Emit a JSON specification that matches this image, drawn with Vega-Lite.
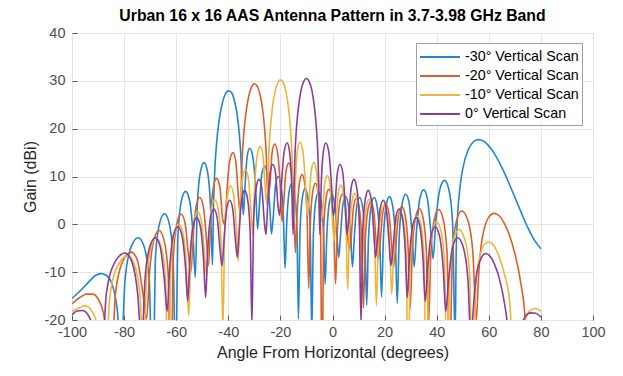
{
"$schema": "https://vega.github.io/schema/vega-lite/v6.json",
"width": 521, "height": 287,
"autosize": {"type": "none"},
"padding": {"left": 72, "top": 33, "right": 30, "bottom": 56},
"background": "white",
"title": {"text": "Urban 16 x 16 AAS Antenna Pattern in 3.7-3.98 GHz Band", "fontSize": 15.8, "fontWeight": "bold", "color": "#000000", "anchor": "middle", "frame": "group", "baseline": "top", "offset": 0},
"data": {"values": [
{"s":"-30","x":-100,"y":-15.5},{"s":"-30","x":-97,"y":-14.0},{"s":"-30","x":-94,"y":-12.3},{"s":"-30","x":-91,"y":-10.7},{"s":"-30","x":-89,"y":-10.3},{"s":"-30","x":-87,"y":-10.6},{"s":"-30","x":-85,"y":-12.0},{"s":"-30","x":-83.5,"y":-14.8},{"s":"-30","x":-82.5,"y":-18.5},{"s":"-30","x":-81.2,"y":-28.6},
{"s":"-30","x":-79.62,"y":-11.5},{"s":"-30","x":-77.24,"y":-4.6},{"s":"-30","x":-74.6,"y":-2.8},{"s":"-30","x":-72.36,"y":-4.6},{"s":"-30","x":-70.34,"y":-11.5},{"s":"-30","x":-69.0,"y":-40},
{"s":"-30","x":-67.92,"y":-6.5},{"s":"-30","x":-66.3,"y":0.4},{"s":"-30","x":-64.5,"y":2.2},{"s":"-30","x":-62.78,"y":0.4},{"s":"-30","x":-61.23,"y":-6.5},{"s":"-30","x":-60.2,"y":-30},
{"s":"-30","x":-59.29,"y":-1.8},{"s":"-30","x":-57.92,"y":5.1},{"s":"-30","x":-56.4,"y":6.9},{"s":"-30","x":-54.92,"y":5.1},{"s":"-30","x":-53.59,"y":-1.8},{"s":"-30","x":-52.7,"y":-11.1},
{"s":"-30","x":-51.88,"y":4.2},{"s":"-30","x":-50.66,"y":11.1},{"s":"-30","x":-49.3,"y":12.9},{"s":"-30","x":-48.02,"y":11.1},{"s":"-30","x":-46.87,"y":4.2},{"s":"-30","x":-46.1,"y":-8.5},
{"s":"-30","x":-45.66,"y":4.4},{"s":"-30","x":-45.16,"y":11.6},{"s":"-30","x":-44.54,"y":16.7},{"s":"-30","x":-43.61,"y":21.4},{"s":"-30","x":-42.39,"y":25.1},{"s":"-30","x":-41.19,"y":27.2},{"s":"-30","x":-40.0,"y":27.9},{"s":"-30","x":-38.83,"y":27.6},{"s":"-30","x":-37.66,"y":25.9},{"s":"-30","x":-36.52,"y":22.6},{"s":"-30","x":-35.66,"y":18.2},{"s":"-30","x":-35.09,"y":13.4},{"s":"-30","x":-34.64,"y":6.3},{"s":"-30","x":-34.25,"y":2},
{"s":"-30","x":-33.66,"y":7.2},{"s":"-30","x":-32.78,"y":14.1},{"s":"-30","x":-31.8,"y":15.9},{"s":"-30","x":-30.58,"y":14.1},{"s":"-30","x":-29.48,"y":7.2},{"s":"-30","x":-28.75,"y":-1.0},
{"s":"-30","x":-28.11,"y":3.5},{"s":"-30","x":-27.15,"y":10.4},{"s":"-30","x":-26.09,"y":12.2},{"s":"-30","x":-25.02,"y":10.4},{"s":"-30","x":-24.06,"y":3.5},{"s":"-30","x":-23.42,"y":-2.0},
{"s":"-30","x":-22.79,"y":1.3},{"s":"-30","x":-21.86,"y":8.2},{"s":"-30","x":-20.82,"y":10.0},{"s":"-30","x":-19.77,"y":8.2},{"s":"-30","x":-18.84,"y":1.3},{"s":"-30","x":-18.21,"y":-9.2},
{"s":"-30","x":-17.59,"y":-0.1},{"s":"-30","x":-16.67,"y":6.8},{"s":"-30","x":-15.64,"y":8.6},{"s":"-30","x":-14.61,"y":6.8},{"s":"-30","x":-13.69,"y":-0.1},{"s":"-30","x":-13.07,"y":-19.8},
{"s":"-30","x":-12.46,"y":-1.2},{"s":"-30","x":-11.53,"y":5.7},{"s":"-30","x":-10.51,"y":7.5},{"s":"-30","x":-9.49,"y":5.7},{"s":"-30","x":-8.56,"y":-1.2},{"s":"-30","x":-7.95,"y":-22.8},
{"s":"-30","x":-7.33,"y":-2.0},{"s":"-30","x":-6.41,"y":4.9},{"s":"-30","x":-5.39,"y":6.7},{"s":"-30","x":-4.36,"y":4.9},{"s":"-30","x":-3.44,"y":-2.0},{"s":"-30","x":-2.82,"y":-12.5},
{"s":"-30","x":-2.2,"y":-2.5},{"s":"-30","x":-1.26,"y":4.4},{"s":"-30","x":-0.23,"y":6.2},{"s":"-30","x":0.81,"y":4.4},{"s":"-30","x":1.75,"y":-2.5},{"s":"-30","x":2.37,"y":-6.9},
{"s":"-30","x":3.01,"y":-2.9},{"s":"-30","x":3.96,"y":4.0},{"s":"-30","x":5.02,"y":5.8},{"s":"-30","x":6.08,"y":4.0},{"s":"-30","x":7.03,"y":-2.9},{"s":"-30","x":7.67,"y":-8.9},
{"s":"-30","x":8.33,"y":-3.1},{"s":"-30","x":9.31,"y":3.8},{"s":"-30","x":10.4,"y":5.6},{"s":"-30","x":11.49,"y":3.8},{"s":"-30","x":12.47,"y":-3.1},{"s":"-30","x":13.13,"y":-16.9},
{"s":"-30","x":13.81,"y":-3.1},{"s":"-30","x":14.84,"y":3.8},{"s":"-30","x":15.98,"y":5.6},{"s":"-30","x":17.12,"y":3.8},{"s":"-30","x":18.15,"y":-3.1},{"s":"-30","x":18.83,"y":-15.2},
{"s":"-30","x":19.55,"y":-2.9},{"s":"-30","x":20.64,"y":4.0},{"s":"-30","x":21.84,"y":5.8},{"s":"-30","x":23.04,"y":4.0},{"s":"-30","x":24.13,"y":-2.9},{"s":"-30","x":24.85,"y":-16.5},
{"s":"-30","x":25.63,"y":-2.4},{"s":"-30","x":26.8,"y":4.5},{"s":"-30","x":28.1,"y":6.3},{"s":"-30","x":29.41,"y":4.5},{"s":"-30","x":30.58,"y":-2.4},{"s":"-30","x":31.36,"y":-8.9},
{"s":"-30","x":32.23,"y":-1.5},{"s":"-30","x":33.53,"y":5.4},{"s":"-30","x":34.98,"y":7.2},{"s":"-30","x":36.42,"y":5.4},{"s":"-30","x":37.72,"y":-1.5},{"s":"-30","x":38.59,"y":-7.2},
{"s":"-30","x":39.65,"y":0.5},{"s":"-30","x":41.24,"y":7.4},{"s":"-30","x":43.0,"y":9.2},{"s":"-30","x":44.62,"y":7.4},{"s":"-30","x":46.09,"y":0.5},{"s":"-30","x":47.06,"y":-24},
{"s":"-30","x":47.5,"y":-5.2},{"s":"-30","x":48,"y":1.65},{"s":"-30","x":49,"y":8.0},{"s":"-30","x":50,"y":11.6},{"s":"-30","x":52,"y":15.5},{"s":"-30","x":54,"y":17.2},{"s":"-30","x":55,"y":17.6},{"s":"-30","x":56,"y":17.7},{"s":"-30","x":58,"y":17.4},{"s":"-30","x":60,"y":16.4},{"s":"-30","x":62,"y":14.9},{"s":"-30","x":65,"y":11.9},{"s":"-30","x":67.5,"y":8.9},{"s":"-30","x":70,"y":5.65},{"s":"-30","x":72.5,"y":2.4},{"s":"-30","x":75,"y":-0.7},{"s":"-30","x":77.5,"y":-3.3},{"s":"-30","x":80,"y":-5.1},

{"s":"-20","x":-100,"y":-16.6},{"s":"-20","x":-97,"y":-15.3},{"s":"-20","x":-94.5,"y":-14.6},{"s":"-20","x":-92,"y":-14.6},{"s":"-20","x":-90,"y":-15.6},{"s":"-20","x":-88,"y":-18.4},{"s":"-20","x":-87,"y":-22},{"s":"-20","x":-85.25,"y":-35},
{"s":"-20","x":-83.32,"y":-14.5},{"s":"-20","x":-80.42,"y":-7.6},{"s":"-20","x":-77.2,"y":-5.8},{"s":"-20","x":-74.86,"y":-7.6},{"s":"-20","x":-72.76,"y":-14.5},{"s":"-20","x":-71.36,"y":-19.8},
{"s":"-20","x":-70.22,"y":-10.0},{"s":"-20","x":-68.5,"y":-3.1},{"s":"-20","x":-66.6,"y":-1.3},{"s":"-20","x":-64.78,"y":-3.1},{"s":"-20","x":-63.13,"y":-10.0},{"s":"-20","x":-62.04,"y":-35},
{"s":"-20","x":-61.09,"y":-6.6},{"s":"-20","x":-59.68,"y":0.3},{"s":"-20","x":-58.1,"y":2.1},{"s":"-20","x":-56.6,"y":0.3},{"s":"-20","x":-55.26,"y":-6.6},{"s":"-20","x":-54.36,"y":-10.0},
{"s":"-20","x":-53.55,"y":-3.1},{"s":"-20","x":-52.33,"y":3.8},{"s":"-20","x":-50.97,"y":5.6},{"s":"-20","x":-49.61,"y":3.8},{"s":"-20","x":-48.39,"y":-3.1},{"s":"-20","x":-47.58,"y":-8.7},
{"s":"-20","x":-46.83,"y":0.9},{"s":"-20","x":-45.72,"y":7.8},{"s":"-20","x":-44.48,"y":9.6},{"s":"-20","x":-43.23,"y":7.8},{"s":"-20","x":-42.12,"y":0.9},{"s":"-20","x":-41.37,"y":0},
{"s":"-20","x":-40.61,"y":6.3},{"s":"-20","x":-39.47,"y":13.2},{"s":"-20","x":-38.2,"y":15.0},{"s":"-20","x":-37.14,"y":13.2},{"s":"-20","x":-36.19,"y":6.3},{"s":"-20","x":-35.55,"y":2.6},
{"s":"-20","x":-35.16,"y":6.2},{"s":"-20","x":-34.70,"y":13.4},{"s":"-20","x":-34.14,"y":18.4},{"s":"-20","x":-33.30,"y":23.0},{"s":"-20","x":-32.19,"y":26.7},{"s":"-20","x":-31.09,"y":28.7},{"s":"-20","x":-30.0,"y":29.4},{"s":"-20","x":-28.92,"y":28.9},{"s":"-20","x":-27.84,"y":27.2},{"s":"-20","x":-26.77,"y":23.8},{"s":"-20","x":-25.97,"y":19.4},{"s":"-20","x":-25.43,"y":14.5},{"s":"-20","x":-25.01,"y":7.4},{"s":"-20","x":-24.64,"y":6.4},
{"s":"-20","x":-24.05,"y":8.1},{"s":"-20","x":-23.18,"y":15.0},{"s":"-20","x":-22.2,"y":16.8},{"s":"-20","x":-21.08,"y":15.0},{"s":"-20","x":-20.08,"y":8.1},{"s":"-20","x":-19.41,"y":0.6},
{"s":"-20","x":-18.79,"y":4.1},{"s":"-20","x":-17.86,"y":11.0},{"s":"-20","x":-16.83,"y":12.8},{"s":"-20","x":-15.80,"y":11.0},{"s":"-20","x":-14.87,"y":4.1},{"s":"-20","x":-14.25,"y":-5.9},
{"s":"-20","x":-13.64,"y":1.7},{"s":"-20","x":-12.71,"y":8.6},{"s":"-20","x":-11.69,"y":10.4},{"s":"-20","x":-10.67,"y":8.6},{"s":"-20","x":-9.74,"y":1.7},{"s":"-20","x":-9.13,"y":-13.4},
{"s":"-20","x":-8.52,"y":-0.1},{"s":"-20","x":-7.59,"y":6.8},{"s":"-20","x":-6.57,"y":8.6},{"s":"-20","x":-5.55,"y":6.8},{"s":"-20","x":-4.62,"y":-0.1},{"s":"-20","x":-4.01,"y":-36},
{"s":"-20","x":-3.39,"y":-1.4},{"s":"-20","x":-2.46,"y":5.5},{"s":"-20","x":-1.42,"y":7.3},{"s":"-20","x":-0.38,"y":5.5},{"s":"-20","x":0.55,"y":-1.4},{"s":"-20","x":1.17,"y":-12.5},
{"s":"-20","x":1.8,"y":-2.4},{"s":"-20","x":2.75,"y":4.5},{"s":"-20","x":3.81,"y":6.3},{"s":"-20","x":4.86,"y":4.5},{"s":"-20","x":5.81,"y":-2.4},{"s":"-20","x":6.44,"y":-5.4},
{"s":"-20","x":7.09,"y":-3.3},{"s":"-20","x":8.07,"y":3.6},{"s":"-20","x":9.15,"y":5.4},{"s":"-20","x":10.23,"y":3.6},{"s":"-20","x":11.21,"y":-3.3},{"s":"-20","x":11.86,"y":-17.5},
{"s":"-20","x":12.54,"y":-4.0},{"s":"-20","x":13.55,"y":2.9},{"s":"-20","x":14.68,"y":4.7},{"s":"-20","x":15.8,"y":2.9},{"s":"-20","x":16.81,"y":-4.0},{"s":"-20","x":17.49,"y":-7.3},
{"s":"-20","x":18.2,"y":-4.5},{"s":"-20","x":19.27,"y":2.4},{"s":"-20","x":20.46,"y":4.2},{"s":"-20","x":21.64,"y":2.4},{"s":"-20","x":22.71,"y":-4.5},{"s":"-20","x":23.42,"y":-8.9},
{"s":"-20","x":24.19,"y":-5.0},{"s":"-20","x":25.33,"y":1.9},{"s":"-20","x":26.61,"y":3.7},{"s":"-20","x":27.89,"y":1.9},{"s":"-20","x":29.03,"y":-5.0},{"s":"-20","x":29.80,"y":-17.7},
{"s":"-20","x":30.64,"y":-5.4},{"s":"-20","x":31.91,"y":1.5},{"s":"-20","x":33.32,"y":3.3},{"s":"-20","x":34.73,"y":1.5},{"s":"-20","x":36.0,"y":-5.4},{"s":"-20","x":36.84,"y":-21.1},
{"s":"-20","x":37.77,"y":-5.6},{"s":"-20","x":39.16,"y":1.3},{"s":"-20","x":40.7,"y":3.1},{"s":"-20","x":42.4,"y":1.3},{"s":"-20","x":43.93,"y":-5.6},{"s":"-20","x":44.95,"y":-30},
{"s":"-20","x":46.07,"y":-5.9},{"s":"-20","x":47.74,"y":1.0},{"s":"-20","x":49.6,"y":2.8},{"s":"-20","x":51.86,"y":1.0},{"s":"-20","x":53.89,"y":-5.9},{"s":"-20","x":55.2,"y":-20},
{"s":"-20","x":56,"y":-11.6},{"s":"-20","x":57,"y":-4.7},{"s":"-20","x":58,"y":-1.5},{"s":"-20","x":60,"y":1.5},{"s":"-20","x":62,"y":2.3},{"s":"-20","x":64,"y":1.8},{"s":"-20","x":66,"y":0.15},{"s":"-20","x":68,"y":-2.4},{"s":"-20","x":70,"y":-6.1},{"s":"-20","x":72,"y":-11.4},{"s":"-20","x":74,"y":-20},{"s":"-20","x":75.76,"y":-40},{"s":"-20","x":78,"y":-23.5},{"s":"-20","x":80,"y":-22.5},

{"s":"-10","x":-100,"y":-18.2},{"s":"-10","x":-97,"y":-17.4},{"s":"-10","x":-95,"y":-17.0},{"s":"-10","x":-92,"y":-18.5},{"s":"-10","x":-90,"y":-22},{"s":"-10","x":-87.75,"y":-40},
{"s":"-10","x":-85.53,"y":-15.3},{"s":"-10","x":-82.2,"y":-8.4},{"s":"-10","x":-78.5,"y":-6.6},{"s":"-10","x":-76.05,"y":-8.4},{"s":"-10","x":-73.84,"y":-15.3},{"s":"-10","x":-72.63,"y":-28.9},
{"s":"-10","x":-71.42,"y":-11.6},{"s":"-10","x":-69.61,"y":-4.7},{"s":"-10","x":-67.6,"y":-2.9},{"s":"-10","x":-65.76,"y":-4.7},{"s":"-10","x":-64.1,"y":-11.6},{"s":"-10","x":-63.0,"y":-40},
{"s":"-10","x":-62.04,"y":-8.7},{"s":"-10","x":-60.6,"y":-1.8},{"s":"-10","x":-59.0,"y":0.0},{"s":"-10","x":-57.47,"y":-1.8},{"s":"-10","x":-56.1,"y":-8.7},{"s":"-10","x":-55.18,"y":-19.1},
{"s":"-10","x":-54.36,"y":-6.1},{"s":"-10","x":-53.12,"y":0.8},{"s":"-10","x":-51.75,"y":2.6},{"s":"-10","x":-50.38,"y":0.8},{"s":"-10","x":-49.14,"y":-6.1},{"s":"-10","x":-48.32,"y":-10.8},
{"s":"-10","x":-47.57,"y":-3.6},{"s":"-10","x":-46.44,"y":3.4},{"s":"-10","x":-45.19,"y":5.15},{"s":"-10","x":-43.94,"y":3.4},{"s":"-10","x":-42.81,"y":-3.6},{"s":"-10","x":-42.06,"y":-21.8},
{"s":"-10","x":-41.36,"y":-0.7},{"s":"-10","x":-40.3,"y":6.2},{"s":"-10","x":-39.13,"y":8.0},{"s":"-10","x":-37.96,"y":6.2},{"s":"-10","x":-36.9,"y":-0.7},{"s":"-10","x":-36.2,"y":-7.6},
{"s":"-10","x":-35.53,"y":2.7},{"s":"-10","x":-34.53,"y":9.6},{"s":"-10","x":-33.41,"y":11.4},{"s":"-10","x":-32.29,"y":9.6},{"s":"-10","x":-31.29,"y":2.7},{"s":"-10","x":-30.62,"y":-2.0},
{"s":"-10","x":-29.92,"y":7.6},{"s":"-10","x":-28.87,"y":14.5},{"s":"-10","x":-27.7,"y":16.3},{"s":"-10","x":-26.72,"y":14.5},{"s":"-10","x":-25.84,"y":7.6},{"s":"-10","x":-25.25,"y":4.3},
{"s":"-10","x":-24.87,"y":7.4},{"s":"-10","x":-24.45,"y":14.6},{"s":"-10","x":-23.92,"y":19.5},{"s":"-10","x":-23.13,"y":24.1},{"s":"-10","x":-22.09,"y":27.7},{"s":"-10","x":-21.04,"y":29.6},{"s":"-10","x":-20.0,"y":30.2},{"s":"-10","x":-18.96,"y":29.7},{"s":"-10","x":-17.93,"y":27.9},{"s":"-10","x":-16.90,"y":24.4},{"s":"-10","x":-16.13,"y":20.0},{"s":"-10","x":-15.61,"y":15.1},{"s":"-10","x":-15.20,"y":7.9},{"s":"-10","x":-14.84,"y":0.3},
{"s":"-10","x":-14.28,"y":8.5},{"s":"-10","x":-13.44,"y":15.4},{"s":"-10","x":-12.5,"y":17.2},{"s":"-10","x":-11.39,"y":15.4},{"s":"-10","x":-10.39,"y":8.5},{"s":"-10","x":-9.72,"y":1.9},
{"s":"-10","x":-9.1,"y":4.2},{"s":"-10","x":-8.18,"y":11.1},{"s":"-10","x":-7.16,"y":12.9},{"s":"-10","x":-6.13,"y":11.1},{"s":"-10","x":-5.21,"y":4.2},{"s":"-10","x":-4.59,"y":0.7},
{"s":"-10","x":-3.97,"y":1.5},{"s":"-10","x":-3.04,"y":8.4},{"s":"-10","x":-2.01,"y":10.2},{"s":"-10","x":-0.98,"y":8.4},{"s":"-10","x":-0.05,"y":1.5},{"s":"-10","x":0.57,"y":-3.7},
{"s":"-10","x":1.2,"y":-0.5},{"s":"-10","x":2.15,"y":6.4},{"s":"-10","x":3.2,"y":8.2},{"s":"-10","x":4.25,"y":6.4},{"s":"-10","x":5.2,"y":-0.5},{"s":"-10","x":5.83,"y":-13.6},
{"s":"-10","x":6.48,"y":-2.2},{"s":"-10","x":7.45,"y":4.7},{"s":"-10","x":8.53,"y":6.5},{"s":"-10","x":9.61,"y":4.7},{"s":"-10","x":10.58,"y":-2.2},{"s":"-10","x":11.23,"y":-11.0},
{"s":"-10","x":11.9,"y":-3.5},{"s":"-10","x":12.91,"y":3.4},{"s":"-10","x":14.03,"y":5.2},{"s":"-10","x":15.15,"y":3.4},{"s":"-10","x":16.16,"y":-3.5},{"s":"-10","x":16.83,"y":-17.0},
{"s":"-10","x":17.54,"y":-4.75},{"s":"-10","x":18.6,"y":2.15},{"s":"-10","x":19.78,"y":3.95},{"s":"-10","x":20.96,"y":2.15},{"s":"-10","x":22.02,"y":-4.75},{"s":"-10","x":22.73,"y":-14.6},
{"s":"-10","x":23.49,"y":-5.9},{"s":"-10","x":24.62,"y":1.0},{"s":"-10","x":25.89,"y":2.8},{"s":"-10","x":27.15,"y":1.0},{"s":"-10","x":28.28,"y":-5.9},{"s":"-10","x":29.04,"y":-35},
{"s":"-10","x":29.87,"y":-7.0},{"s":"-10","x":31.13,"y":-0.1},{"s":"-10","x":32.52,"y":1.7},{"s":"-10","x":33.91,"y":-0.1},{"s":"-10","x":35.16,"y":-7.0},{"s":"-10","x":35.99,"y":-40},
{"s":"-10","x":36.95,"y":-8.2},{"s":"-10","x":38.38,"y":-1.3},{"s":"-10","x":39.98,"y":0.5},{"s":"-10","x":41.57,"y":-1.3},{"s":"-10","x":43.0,"y":-8.2},{"s":"-10","x":43.96,"y":-35},
{"s":"-10","x":45.05,"y":-9.8},{"s":"-10","x":46.68,"y":-2.9},{"s":"-10","x":48.5,"y":-1.1},{"s":"-10","x":50.65,"y":-2.9},{"s":"-10","x":52.59,"y":-9.8},{"s":"-10","x":53.88,"y":-37},
{"s":"-10","x":55,"y":-13.0},{"s":"-10","x":56,"y":-8.2},{"s":"-10","x":57,"y":-5.8},{"s":"-10","x":58,"y":-4.4},{"s":"-10","x":60,"y":-3.7},{"s":"-10","x":62,"y":-4.5},{"s":"-10","x":64,"y":-6.8},{"s":"-10","x":66,"y":-10.4},{"s":"-10","x":68,"y":-16.2},{"s":"-10","x":69.5,"y":-30},{"s":"-10","x":70.77,"y":-40},
{"s":"-10","x":72,"y":-26.5},{"s":"-10","x":74,"y":-20.0},{"s":"-10","x":76,"y":-18.0},{"s":"-10","x":78,"y":-17.6},{"s":"-10","x":80,"y":-18.2},

{"s":"0","x":-100,"y":-18.9},{"s":"0","x":-98,"y":-18.1},{"s":"0","x":-96,"y":-18.0},{"s":"0","x":-94,"y":-18.8},{"s":"0","x":-92,"y":-21.5},{"s":"0","x":-91,"y":-24.3},{"s":"0","x":-89.15,"y":-37},
{"s":"0","x":-86.86,"y":-14.7},{"s":"0","x":-83.42,"y":-7.8},{"s":"0","x":-79.6,"y":-6.0},{"s":"0","x":-77.05,"y":-7.8},{"s":"0","x":-74.76,"y":-14.7},{"s":"0","x":-73.23,"y":-25.4},
{"s":"0","x":-71.98,"y":-11.5},{"s":"0","x":-70.09,"y":-4.6},{"s":"0","x":-68.0,"y":-2.8},{"s":"0","x":-66.19,"y":-4.6},{"s":"0","x":-64.56,"y":-11.5},{"s":"0","x":-63.47,"y":-18.2},
{"s":"0","x":-62.52,"y":-9.2},{"s":"0","x":-61.1,"y":-2.3},{"s":"0","x":-59.4,"y":-0.5},{"s":"0","x":-57.8,"y":-2.3},{"s":"0","x":-56.4,"y":-9.2},{"s":"0","x":-55.58,"y":-16.1},
{"s":"0","x":-54.75,"y":-7.3},{"s":"0","x":-53.51,"y":-0.4},{"s":"0","x":-52.13,"y":1.4},{"s":"0","x":-50.75,"y":-0.4},{"s":"0","x":-49.51,"y":-7.3},{"s":"0","x":-48.68,"y":-15.3},
{"s":"0","x":-47.93,"y":-5.5},{"s":"0","x":-46.79,"y":1.4},{"s":"0","x":-45.54,"y":3.2},{"s":"0","x":-44.28,"y":1.4},{"s":"0","x":-43.14,"y":-5.5},{"s":"0","x":-42.39,"y":-8.6},
{"s":"0","x":-41.69,"y":-3.65},{"s":"0","x":-40.63,"y":3.25},{"s":"0","x":-39.46,"y":5.05},{"s":"0","x":-38.29,"y":3.25},{"s":"0","x":-37.22,"y":-3.65},{"s":"0","x":-36.52,"y":-6.9},
{"s":"0","x":-35.85,"y":-1.6},{"s":"0","x":-34.84,"y":5.3},{"s":"0","x":-33.73,"y":7.1},{"s":"0","x":-32.61,"y":5.3},{"s":"0","x":-31.6,"y":-1.6},{"s":"0","x":-30.93,"y":-21.0},
{"s":"0","x":-30.28,"y":0.7},{"s":"0","x":-29.31,"y":7.6},{"s":"0","x":-28.24,"y":9.4},{"s":"0","x":-27.16,"y":7.6},{"s":"0","x":-26.19,"y":0.7},{"s":"0","x":-25.54,"y":-2.1},
{"s":"0","x":-24.91,"y":3.8},{"s":"0","x":-23.97,"y":10.7},{"s":"0","x":-22.92,"y":12.5},{"s":"0","x":-21.87,"y":10.7},{"s":"0","x":-20.92,"y":3.8},{"s":"0","x":-20.29,"y":1.9},
{"s":"0","x":-19.6,"y":8.3},{"s":"0","x":-18.56,"y":15.2},{"s":"0","x":-17.4,"y":17.0},{"s":"0","x":-16.49,"y":15.2},{"s":"0","x":-15.67,"y":8.3},{"s":"0","x":-15.12,"y":-2.1},
{"s":"0","x":-14.76,"y":7.9},{"s":"0","x":-14.35,"y":15.1},{"s":"0","x":-13.84,"y":20.0},{"s":"0","x":-13.07,"y":24.5},{"s":"0","x":-12.05,"y":28.1},{"s":"0","x":-11.02,"y":29.9},{"s":"0","x":-10.0,"y":30.5},{"s":"0","x":-8.98,"y":29.9},{"s":"0","x":-7.95,"y":28.1},{"s":"0","x":-6.93,"y":24.5},{"s":"0","x":-6.16,"y":20.0},{"s":"0","x":-5.65,"y":15.1},{"s":"0","x":-5.24,"y":7.9},{"s":"0","x":-4.88,"y":-2.1},
{"s":"0","x":-4.33,"y":8.3},{"s":"0","x":-3.51,"y":15.2},{"s":"0","x":-2.6,"y":17.0},{"s":"0","x":-1.44,"y":15.2},{"s":"0","x":-0.4,"y":8.3},{"s":"0","x":0.29,"y":1.9},
{"s":"0","x":0.92,"y":3.8},{"s":"0","x":1.87,"y":10.7},{"s":"0","x":2.92,"y":12.5},{"s":"0","x":3.97,"y":10.7},{"s":"0","x":4.91,"y":3.8},{"s":"0","x":5.54,"y":-2.1},
{"s":"0","x":6.19,"y":0.7},{"s":"0","x":7.16,"y":7.6},{"s":"0","x":8.24,"y":9.4},{"s":"0","x":9.31,"y":7.6},{"s":"0","x":10.28,"y":0.7},{"s":"0","x":10.93,"y":-21.0},
{"s":"0","x":11.6,"y":-1.6},{"s":"0","x":12.61,"y":5.3},{"s":"0","x":13.73,"y":7.1},{"s":"0","x":14.84,"y":5.3},{"s":"0","x":15.85,"y":-1.6},{"s":"0","x":16.52,"y":-6.9},
{"s":"0","x":17.22,"y":-3.65},{"s":"0","x":18.28,"y":3.25},{"s":"0","x":19.46,"y":5.05},{"s":"0","x":20.63,"y":3.25},{"s":"0","x":21.69,"y":-3.65},{"s":"0","x":22.39,"y":-8.6},
{"s":"0","x":23.14,"y":-5.5},{"s":"0","x":24.28,"y":1.4},{"s":"0","x":25.54,"y":3.2},{"s":"0","x":26.79,"y":1.4},{"s":"0","x":27.93,"y":-5.5},{"s":"0","x":28.68,"y":-15.3},
{"s":"0","x":29.51,"y":-7.3},{"s":"0","x":30.75,"y":-0.4},{"s":"0","x":32.13,"y":1.4},{"s":"0","x":33.51,"y":-0.4},{"s":"0","x":34.75,"y":-7.3},{"s":"0","x":35.58,"y":-16.1},
{"s":"0","x":36.5,"y":-9.2},{"s":"0","x":37.87,"y":-2.3},{"s":"0","x":39.4,"y":-0.5},{"s":"0","x":41.03,"y":-2.3},{"s":"0","x":42.49,"y":-9.2},{"s":"0","x":43.47,"y":-18.2},
{"s":"0","x":44.56,"y":-11.5},{"s":"0","x":46.19,"y":-4.6},{"s":"0","x":48.0,"y":-2.8},{"s":"0","x":50.09,"y":-4.6},{"s":"0","x":51.98,"y":-11.5},{"s":"0","x":53.23,"y":-25.4},
{"s":"0","x":54,"y":-18.1},{"s":"0","x":55,"y":-11.6},{"s":"0","x":56,"y":-8.6},{"s":"0","x":57,"y":-7.2},{"s":"0","x":58,"y":-6.3},{"s":"0","x":59,"y":-6.1},{"s":"0","x":60,"y":-6.4},{"s":"0","x":62,"y":-8.1},{"s":"0","x":64,"y":-11.25},{"s":"0","x":66,"y":-16.4},{"s":"0","x":67,"y":-20.3},{"s":"0","x":69.15,"y":-40},
{"s":"0","x":71,"y":-24.8},{"s":"0","x":72,"y":-22.0},{"s":"0","x":74,"y":-19.3},{"s":"0","x":76,"y":-18.5},{"s":"0","x":78,"y":-18.6},{"s":"0","x":80,"y":-19.4}
]},
"mark": {"type": "line", "clip": true, "interpolate": "monotone", "strokeWidth": 1.6},
"encoding": {
 "x": {"field": "x", "type": "quantitative", "scale": {"domain": [-100, 100], "nice": false},
  "axis": {"values": [-100,-80,-60,-40,-20,0,20,40,60,80,100], "title": "Angle From Horizontal (degrees)", "labelExpr": "toString(datum.value)", "labelFlush": false, "labelPadding": 10, "titlePadding": 6}},
 "y": {"field": "y", "type": "quantitative", "scale": {"domain": [-20, 40], "nice": false},
  "axis": {"values": [-20,-10,0,10,20,30,40], "title": "Gain (dBi)", "labelExpr": "toString(datum.value)", "labelFlush": false, "labelPadding": 12, "titlePadding": 6}},
 "color": {"field": "s", "type": "nominal",
  "scale": {"domain": ["-30","-20","-10","0"], "range": ["#1f86d0","#dc5f2a","#edb53a","#8b3d9c"]},
  "legend": {"title": null, "orient": "none", "legendX": 344, "legendY": 10, "symbolType": "M-2,0H2", "symbolStrokeWidth": 2, "symbolSize": 400, "symbolOffset": 10, "labelFontSize": 14.3, "labelColor": "#000000", "labelExpr": "datum.label + '° Vertical Scan'", "fillColor": "#ffffff", "strokeColor": "#a0a0a0", "padding": 3, "rowPadding": 0, "labelOffset": 14}}
},
"config": {
 "font": "Liberation Sans",
 "view": {"stroke": "#595959", "strokeWidth": 1},
 "axis": {"domain": false, "grid": true, "gridColor": "#e4e4e4", "gridWidth": 1, "ticks": true, "tickColor": "#595959", "tickSize": -5, "labelFontSize": 14.5, "labelColor": "#4d4d4d", "titleFontSize": 16, "titleFontWeight": "normal", "titleColor": "#262626"}
}
}
